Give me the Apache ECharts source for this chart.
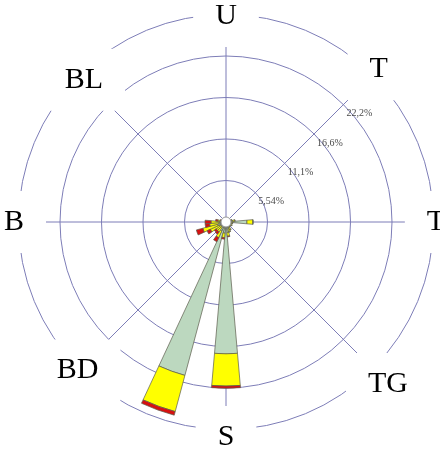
<!DOCTYPE html>
<html>
<head>
<meta charset="utf-8">
<script src="https://cdn.jsdelivr.net/npm/echarts@6/dist/echarts.min.js"></script>
<style>
html,body{margin:0;padding:0;background:#fff;}
#chart{width:440px;height:452px;}
</style>
</head>
<body>
<div id="chart"></div>
<script>
// ---- data ----
const directions = ['0°','10°','20°','30°','40°','50°','60°','70°','80°','90°','100°','110°','120°','130°','140°','150°','160°','170°','180°','190°','200°','210°','220°','230°','240°','250°','260°','270°','280°','290°','300°','310°','320°','330°','340°','350°'];
const speedLow  = [0.3,0.2,0.2,0.2,0.2,0.3,0.4,0.6,0.9,2.8,0.7,0.5,0.6,0.5,0.6,0.8,1.0,1.4,17.6,1.5,21.2,1.3,0.9,0.8,1.0,1.2,1.0,0.8,0.5,0.4,0.3,0.3,0.2,0.2,0.2,0.2];
const speedMid  = [0,0,0,0,0,0,0.1,0.2,0.3,0.8,0.2,0.2,0.3,0.2,0.2,0.4,0.4,0.5,4.3,0.6,5.0,1.0,0.7,0.8,1.3,2.0,1.2,1.2,0.6,0.3,0.2,0.1,0,0,0,0];
const speedHigh = [0,0,0,0,0,0,0,0,0,0,0,0,0,0,0,0,0,0.1,0.3,0.2,0.5,0.6,0.4,0.3,0.5,0.9,0.6,0.8,0.3,0.1,0,0,0,0,0,0];
const ringValues = [5.54, 11.1, 16.6, 22.2, 27.7];
const ringLabels = ['5,54%', '11,1%', '16,6%', '22,2%'];
const compassLabels = ['U','T','T','TG','S','BD','B','BL'];
const compassAngles = [0,45,90,135,180,225,270,315];

// ---- layout ----
const CX = 226, CY = 222, R = 207.5;
const labelRadius = [206, 216, 210, 229, 215, 210, 212, 201];
const gridColor = '#7d7db7';

const chart = echarts.init(document.getElementById('chart'), null, {renderer:'canvas'});
const rMax = ringValues[ringValues.length-1];

function barSeries(name, data, color) {
  return {
    name, type:'bar', coordinateSystem:'polar', polarIndex:0, stack:'w',
    data, barCategoryGap:'0%',
    itemStyle:{color, borderColor:'#5b5b4c', borderWidth:0.7},
    silent:true, animation:false
  };
}

chart.setOption({
  animation:false,
  polar:[
    {center:[CX,CY], radius:[0,R]},
    {center:[CX,CY], radius:[0,R]}
  ],
  angleAxis:[
    {polarIndex:0, type:'category', data:directions, startAngle:95, clockwise:true,
     boundaryGap:true, axisLine:{show:false}, axisTick:{show:false}, axisLabel:{show:false}, splitLine:{show:false}, z:1},
    {polarIndex:1, type:'value', min:0, max:360, interval:45, startAngle:90, clockwise:true,
     axisLine:{show:false}, axisTick:{show:false}, axisLabel:{show:false},
     splitLine:{show:true, lineStyle:{color:gridColor, width:1}}, z:0}
  ],
  radiusAxis:[
    {polarIndex:0, type:'value', min:0, max:rMax, axisLine:{show:false}, axisTick:{show:false}, axisLabel:{show:false}, splitLine:{show:false}},
    {polarIndex:1, type:'value', min:0, max:rMax, interval:ringValues[0], axisLine:{show:false}, axisTick:{show:false}, axisLabel:{show:false},
     splitLine:{show:true, lineStyle:{color:gridColor, width:1}}, z:0}
  ],
  series:[
    barSeries('0', speedLow, '#bcd8bf'),
    barSeries('1', speedMid, '#ffff00'),
    barSeries('2', speedHigh, '#d81010')
  ]
});

// labels positioned via the polar coordinate system
const c0 = chart.convertToPixel({polarIndex:1}, [0, 0]);
const graphics = [];
ringLabels.forEach((t, i) => {
  const p = chart.convertToPixel({polarIndex:1}, [ringValues[i], 45]);
  graphics.push({type:'text', x:p[0]+3, y:p[1]+9, z:50,
    style:{text:t, font:'10px "Liberation Serif"', fill:'#4a4a4a', align:'left', verticalAlign:'middle'}});
});
compassLabels.forEach((t, i) => {
  const a = compassAngles[i]*Math.PI/180;
  const x = c0[0] + labelRadius[i]*Math.sin(a);
  const y = c0[1] - labelRadius[i]*Math.cos(a);
  graphics.push({type:'text', x, y, z:60,
    style:{text:t, font:'30px "Liberation Serif"', fill:'#000', align:'center', verticalAlign:'middle',
      backgroundColor:'#fff', padding:[16,22]}});
});
graphics.push({type:'circle', shape:{cx:c0[0], cy:c0[1], r:5}, z:70,
  style:{fill:'#fff', stroke:'#999', lineWidth:1}});
chart.setOption({graphic:graphics});
</script>
</body>
</html>
